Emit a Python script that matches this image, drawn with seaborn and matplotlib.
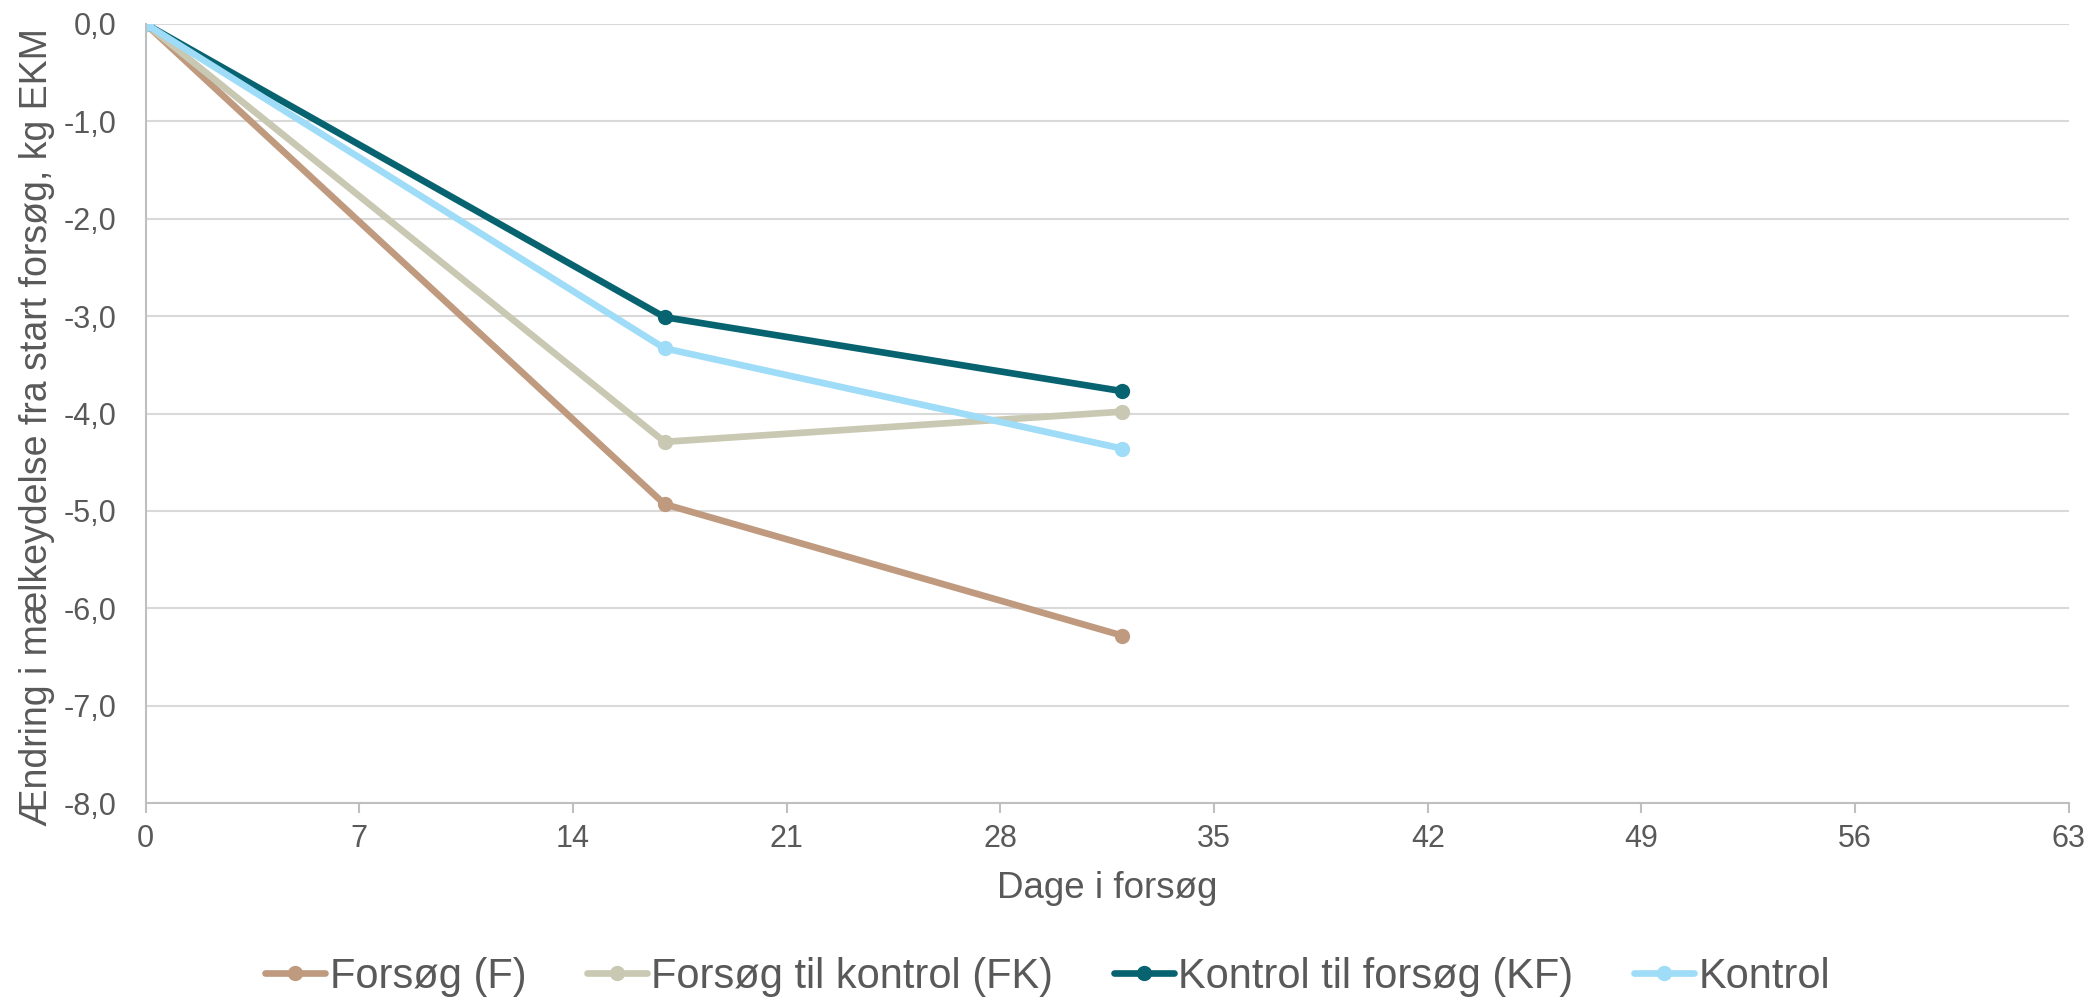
import matplotlib
matplotlib.use("Agg")
import matplotlib.pyplot as plt
import pandas as pd
import seaborn as sns

# Data
days = [0, 17, 32]
forsoeg = [0.0, -4.93, -6.28]
forsoeg_til_kontrol = [0.0, -4.29, -3.98]
kontrol_til_forsoeg = [0.0, -3.01, -3.77]
kontrol = [0.0, -3.33, -4.36]

series_names = ["Forsøg (F)", "Forsøg til kontrol (FK)", "Kontrol til forsøg (KF)", "Kontrol"]
series_colors = ["#BF9A7F", "#C9C8B2", "#07636F", "#9EDCF7"]
x_ticks = [0, 7, 14, 21, 28, 35, 42, 49, 56, 63]
y_ticks = [0, -1, -2, -3, -4, -5, -6, -7, -8]

rows = []
for name, vals in zip(series_names, [forsoeg, forsoeg_til_kontrol, kontrol_til_forsoeg, kontrol]):
    for d, v in zip(days, vals):
        rows.append({"dag": d, "aendring": v, "gruppe": name})
df = pd.DataFrame(rows)

sns.set_theme(style="white")
plt.rcParams["font.family"] = ["Liberation Sans", "DejaVu Sans"]
text_color = "#595959"

fig = plt.figure(figsize=(20.95, 9.99), dpi=100)
ax = fig.add_axes([0.0695, 0.196, 0.918, 0.78])

ax.yaxis.grid(True, color="#D9D9D9", linewidth=1.5)
ax.set_axisbelow(True)

sns.lineplot(data=df, x="dag", y="aendring", hue="gruppe", hue_order=series_names,
             palette=dict(zip(series_names, series_colors)), marker="o", markersize=11,
             markeredgewidth=0, linewidth=4.8, ax=ax, legend=True)

ax.set_xlim(0, 63)
ax.set_ylim(-8, 0)
ax.set_xticks(x_ticks)
ax.set_yticks(y_ticks)
ax.set_yticklabels([f"{v:.1f}".replace(".", ",") for v in y_ticks])
ax.tick_params(axis="both", labelsize=22, colors=text_color)
ax.tick_params(axis="x", bottom=True, length=7, width=1.5, color="#BFBFBF", pad=8)
ax.tick_params(axis="y", left=False, pad=15)

for side in ["top", "right"]:
    ax.spines[side].set_visible(False)
for side in ["left", "bottom"]:
    ax.spines[side].set_color("#BFBFBF")
    ax.spines[side].set_linewidth(1.5)

ax.set_xlabel("Dage i forsøg", fontsize=26.5, color=text_color, labelpad=12)
ax.set_ylabel("Ændring i mælkeydelse fra start forsøg, kg EKM", fontsize=27, color=text_color)
ax.yaxis.set_label_coords(-0.047, 0.483)

handles, labels = ax.get_legend_handles_labels()
ax.get_legend().remove()
leg = fig.legend(handles, labels, loc="center", bbox_to_anchor=(0.5, 0.022), ncol=4,
                 frameon=False, fontsize=30, handlelength=1.45, handletextpad=0.1, columnspacing=1.45)
for t in leg.get_texts():
    t.set_color(text_color)

fig.savefig("out.png", dpi=100)
plt.close(fig)
